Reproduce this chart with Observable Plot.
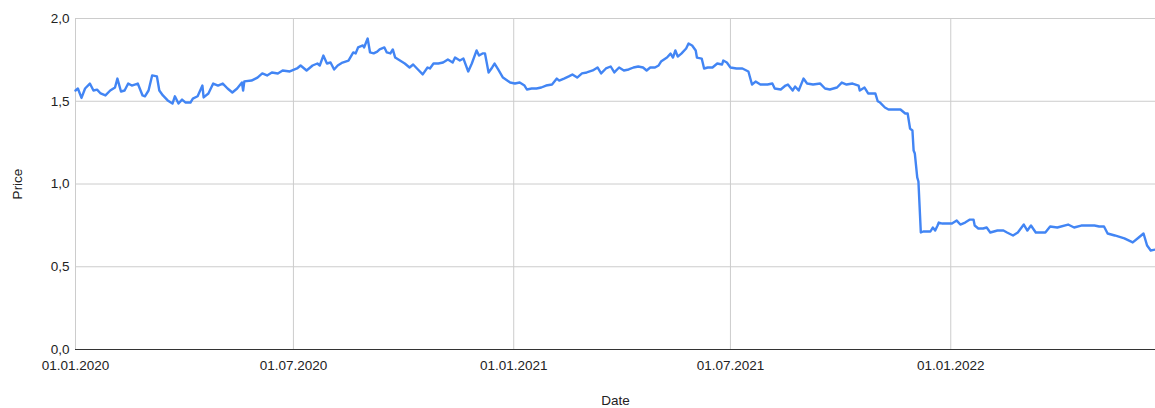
<!DOCTYPE html>
<html><head><meta charset="utf-8">
<script src="https://cdn.jsdelivr.net/npm/d3@7"></script>
<script src="https://cdn.jsdelivr.net/npm/@observablehq/plot@0.6"></script>
<style>body{margin:0;background:#fff;}</style>
</head><body><div id="chart"></div><script>
const dates = [
"2020-01-01","2020-01-03","2020-01-06","2020-01-09","2020-01-13","2020-01-16","2020-01-19","2020-01-22","2020-01-26","2020-01-30",
"2020-02-03","2020-02-05","2020-02-08","2020-02-11","2020-02-14","2020-02-17","2020-02-22","2020-02-26","2020-02-28","2020-03-02",
"2020-03-05","2020-03-09","2020-03-11","2020-03-14","2020-03-18","2020-03-22","2020-03-24","2020-03-27","2020-03-30","2020-04-02",
"2020-04-06","2020-04-08","2020-04-12","2020-04-16","2020-04-17","2020-04-21","2020-04-25","2020-04-29","2020-05-03","2020-05-07",
"2020-05-11","2020-05-15","2020-05-19","2020-05-20","2020-05-21","2020-05-27","2020-06-01","2020-06-05","2020-06-09","2020-06-13",
"2020-06-18","2020-06-22","2020-06-28","2020-07-04","2020-07-07","2020-07-12","2020-07-17","2020-07-21","2020-07-23","2020-07-26",
"2020-07-29","2020-08-01","2020-08-04","2020-08-07","2020-08-11","2020-08-16","2020-08-20","2020-08-22","2020-08-24","2020-08-28",
"2020-08-29","2020-09-01","2020-09-03","2020-09-06","2020-09-09","2020-09-11","2020-09-15","2020-09-17","2020-09-20","2020-09-22",
"2020-09-24","2020-09-28","2020-10-02","2020-10-06","2020-10-09","2020-10-13","2020-10-17","2020-10-21","2020-10-23","2020-10-26",
"2020-10-30","2020-11-03","2020-11-07","2020-11-11","2020-11-13","2020-11-17","2020-11-20","2020-11-24","2020-11-27","2020-12-01",
"2020-12-03","2020-12-06","2020-12-08","2020-12-11","2020-12-14","2020-12-16","2020-12-19","2020-12-23","2020-12-29","2021-01-02",
"2021-01-06","2021-01-10","2021-01-12","2021-01-16","2021-01-20","2021-01-24","2021-01-28","2021-02-02","2021-02-06","2021-02-08",
"2021-02-12","2021-02-16","2021-02-19","2021-02-23","2021-02-27","2021-03-03","2021-03-08","2021-03-12","2021-03-15","2021-03-19",
"2021-03-23","2021-03-26","2021-03-30","2021-04-03","2021-04-07","2021-04-11","2021-04-15","2021-04-19","2021-04-22","2021-04-25",
"2021-04-29","2021-05-02","2021-05-04","2021-05-09","2021-05-12","2021-05-14","2021-05-16","2021-05-18","2021-05-21","2021-05-25",
"2021-05-27","2021-05-30","2021-06-02","2021-06-03","2021-06-07","2021-06-09","2021-06-12","2021-06-16","2021-06-20","2021-06-24",
"2021-06-25","2021-06-28","2021-07-01","2021-07-06","2021-07-11","2021-07-16","2021-07-19","2021-07-22","2021-07-26","2021-08-01",
"2021-08-05","2021-08-07","2021-08-12","2021-08-16","2021-08-18","2021-08-22","2021-08-24","2021-08-27","2021-08-31","2021-09-03",
"2021-09-08","2021-09-14","2021-09-18","2021-09-22","2021-09-28","2021-10-02","2021-10-06","2021-10-11","2021-10-16","2021-10-17",
"2021-10-21","2021-10-24","2021-10-30","2021-11-01","2021-11-03","2021-11-07","2021-11-10","2021-11-20","2021-11-24","2021-11-26",
"2021-11-28","2021-11-30","2021-12-01","2021-12-02","2021-12-04","2021-12-05","2021-12-07","2021-12-09","2021-12-15","2021-12-17",
"2021-12-19","2021-12-21","2021-12-22","2021-12-25","2021-12-29","2022-01-02","2022-01-06","2022-01-09","2022-01-13","2022-01-17",
"2022-01-20","2022-01-21","2022-01-24","2022-01-28","2022-01-31","2022-02-03","2022-02-09","2022-02-14","2022-02-17","2022-02-22",
"2022-02-26","2022-03-03","2022-03-06","2022-03-09","2022-03-13","2022-03-21","2022-03-25","2022-03-31","2022-04-09","2022-04-14",
"2022-04-20","2022-05-01","2022-05-05","2022-05-09","2022-05-12","2022-05-18","2022-05-26","2022-06-02","2022-06-07","2022-06-11",
"2022-06-14","2022-06-17","2022-06-21"
];
const prices = [
1.565,1.577,1.52,1.577,1.607,1.565,1.57,1.547,1.535,1.565,
1.583,1.637,1.559,1.565,1.607,1.595,1.607,1.535,1.53,1.565,
1.656,1.65,1.565,1.535,1.505,1.486,1.53,1.486,1.51,1.492,
1.492,1.516,1.53,1.595,1.523,1.547,1.607,1.595,1.607,1.577,
1.553,1.577,1.613,1.565,1.62,1.625,1.643,1.668,1.656,1.674,
1.668,1.686,1.68,1.698,1.716,1.686,1.716,1.728,1.716,1.776,
1.728,1.734,1.692,1.716,1.734,1.746,1.795,1.789,1.825,1.837,
1.825,1.879,1.795,1.789,1.80,1.813,1.825,1.795,1.789,1.813,
1.764,1.746,1.728,1.704,1.722,1.692,1.662,1.704,1.698,1.728,
1.728,1.734,1.752,1.734,1.764,1.746,1.758,1.68,1.728,1.807,
1.776,1.789,1.789,1.674,1.704,1.728,1.692,1.643,1.613,1.607,
1.613,1.595,1.571,1.577,1.577,1.583,1.595,1.601,1.637,1.625,
1.637,1.65,1.662,1.643,1.668,1.674,1.686,1.704,1.668,1.698,
1.71,1.674,1.704,1.686,1.692,1.704,1.71,1.704,1.686,1.704,
1.704,1.716,1.74,1.764,1.788,1.764,1.807,1.77,1.788,1.819,
1.849,1.837,1.807,1.764,1.758,1.698,1.704,1.704,1.728,1.722,
1.746,1.734,1.704,1.698,1.698,1.68,1.601,1.619,1.601,1.601,
1.607,1.577,1.571,1.595,1.601,1.565,1.589,1.565,1.637,1.607,
1.601,1.607,1.577,1.571,1.583,1.613,1.601,1.607,1.595,1.565,
1.583,1.547,1.547,1.50,1.492,1.462,1.45,1.45,1.426,1.426,
1.335,1.323,1.202,1.184,1.04,1.015,0.707,0.713,0.713,0.737,
0.719,0.749,0.767,0.761,0.761,0.761,0.779,0.755,0.767,0.785,
0.785,0.749,0.731,0.731,0.737,0.707,0.719,0.719,0.707,0.689,
0.707,0.755,0.719,0.749,0.707,0.707,0.743,0.737,0.755,0.737,
0.749,0.749,0.743,0.743,0.701,0.689,0.671,0.647,0.677,0.701,
0.628,0.598,0.604
];
const xTickLabels = ["2020-01-01","2020-07-01","2021-01-01","2021-07-01","2022-01-01"];
const yTicks = [0, 0.5, 1, 1.5, 2];

const parse = s => new Date(s + "T00:00:00Z");
const data = dates.map((d, i) => ({date: parse(d), price: prices[i]}));
const xTicks = xTickLabels.map(parse);
const fmtY = v => v.toFixed(1).replace(".", ",");
const fmtX = d3.utcFormat("%d.%m.%Y");

const chart = Plot.plot({
  width: 1155,
  height: 408,
  marginLeft: 75,
  marginRight: 0,
  marginTop: 18,
  marginBottom: 59,
  style: {fontFamily: "'Liberation Sans', Arial, sans-serif", fontSize: "13.5px", color: "#222", background: "#fff"},
  x: {type: "utc", domain: [parse("2020-01-01"), parse("2022-06-21")], ticks: xTicks, tickFormat: fmtX,
      tickSize: 0, tickPadding: 11, label: "Date", labelAnchor: "center", labelOffset: 55, labelArrow: "none"},
  y: {domain: [0, 2], ticks: yTicks, tickFormat: fmtY, tickSize: 0, tickPadding: 6,
      label: "Price", labelAnchor: "center", labelOffset: 63, labelArrow: "none"},
  marks: [
    Plot.gridX(xTicks, {stroke: "#cccccc", strokeOpacity: 1}),
    Plot.gridY(yTicks, {stroke: "#cccccc", strokeOpacity: 1}),
    Plot.ruleY([0], {stroke: "#333333"}),
    Plot.lineY(data, {x: "date", y: "price", stroke: "#4285F4", strokeWidth: 2.4, strokeLinejoin: "round"})
  ]
});
document.getElementById("chart").appendChild(chart);
</script></body></html>
